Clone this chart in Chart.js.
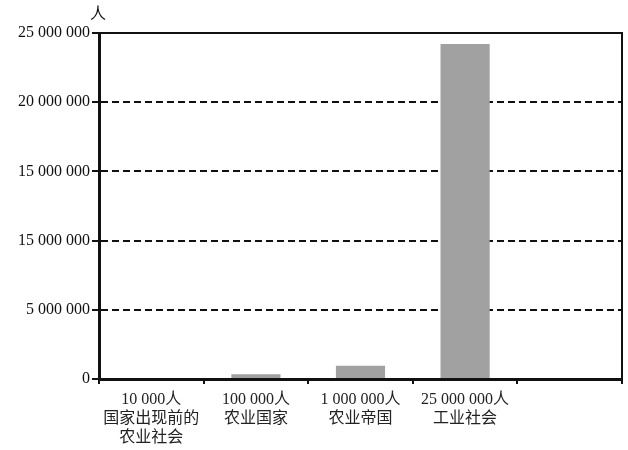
<!DOCTYPE html>
<html>
<head>
<meta charset="utf-8">
<script src="https://cdn.jsdelivr.net/npm/chart.js@4/dist/chart.umd.min.js"></script>
<style>
  html, body { margin: 0; padding: 0; background: #fff; }
  #wrap { width: 628px; height: 450px; }
</style>
</head>
<body>
<div id="wrap"><canvas id="chart"></canvas></div>
<script>
const categories = [
  ['10 000人', '国家出现前的', '农业社会'],
  ['100 000人', '农业国家'],
  ['1 000 000人', '农业帝国'],
  ['25 000 000人', '工业社会'],
  ''
];
const population = [10000, 350000, 950000, 24200000, null];
// tick labels as printed in the original (second label repeats 15 000 000)
const yTickLabels = ['0', '5 000 000', '15 000 000', '15 000 000', '20 000 000', '25 000 000'];
const yUnit = '人';

const fontFamily = "'Liberation Serif', 'Noto Sans CJK SC', serif";

const frame = {
  id: 'frame',
  afterDraw(chart) {
    const { ctx, chartArea } = chart;
    ctx.save();
    ctx.strokeStyle = '#111';
    ctx.lineWidth = 2;
    ctx.beginPath();
    ctx.moveTo(chartArea.left, chartArea.top);
    ctx.lineTo(chartArea.right, chartArea.top);
    ctx.lineTo(chartArea.right, chartArea.bottom);
    ctx.stroke();
    ctx.fillStyle = '#111';
    ctx.font = '16px ' + fontFamily;
    ctx.textAlign = 'center';
    ctx.textBaseline = 'middle';
    ctx.fillText(yUnit, chartArea.left - 1, 15);
    ctx.restore();
  }
};

new Chart(document.getElementById('chart'), {
  type: 'bar',
  data: {
    labels: categories,
    datasets: [{
      data: population,
      backgroundColor: '#a1a1a1',
      borderWidth: 0,
      barPercentage: 0.47,
      categoryPercentage: 1
    }]
  },
  options: {
    responsive: true,
    maintainAspectRatio: false,
    animation: false,
    layout: { padding: { top: 33, right: 6, left: 0, bottom: 0 } },
    plugins: { legend: { display: false }, tooltip: { enabled: false } },
    scales: {
      x: {
        afterFit: s => { s.height = 71; },
        grid: {
          offset: true,
          drawOnChartArea: false,
          color: '#111',
          lineWidth: 2,
          tickLength: 5
        },
        border: { color: '#111', width: 3, z: 1 },
        ticks: {
          color: '#222',
          padding: 6,
          maxRotation: 0,
          autoSkip: false,
          font: { family: fontFamily, size: 16, lineHeight: 1.2 }
        }
      },
      y: {
        min: 0,
        max: 25000000,
        afterFit: s => { s.width = 99; },
        grid: {
          color: '#111',
          lineWidth: 2,
          tickLength: 7
        },
        border: { color: '#111', width: 3, dash: [7, 4] },
        ticks: {
          stepSize: 5000000,
          color: '#111',
          padding: 2,
          font: { family: fontFamily, size: 16 },
          callback: (v, i) => yTickLabels[i]
        }
      }
    }
  },
  plugins: [frame]
});
</script>
</body>
</html>
